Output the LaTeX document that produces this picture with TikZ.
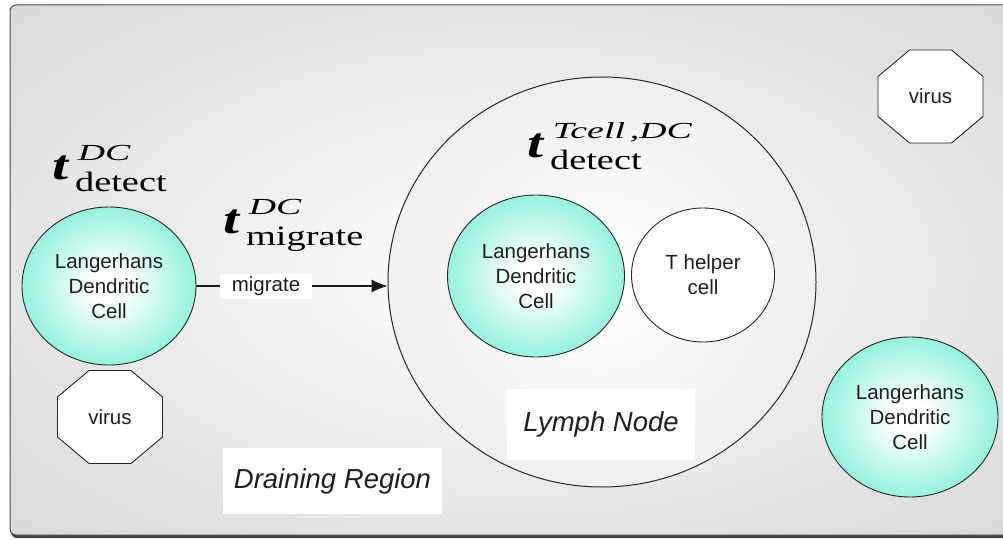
\documentclass[tikz,border=0pt]{standalone}
\usepackage{fontspec}
\usepackage{graphicx}
\newfontfamily\arialf{Liberation Sans}
\newfontfamily\tmsf{Liberation Serif}
\usetikzlibrary{arrows.meta,shapes.geometric}
\definecolor{dccol}{RGB}{122,240,212}
\pgfdeclareradialshading{dcshade}{\pgfpoint{0bp}{0bp}}{color(0bp)=(white); color(5bp)=(white); color(30bp)=(dccol); color(50bp)=(dccol)}
\pgfdeclareradialshading{bgshade}{\pgfpoint{0bp}{0bp}}{color(0bp)=(white); color(50bp)=(black!21)}
\pgfdeclareradialshading{lnshade}{\pgfpoint{0bp}{0bp}}{color(0bp)=(white); color(25bp)=(black!6); color(50bp)=(black!17)}
\pgfdeclareradialshading{whshade}{\pgfpoint{0bp}{0bp}}{color(0bp)=(white); color(30bp)=(white); color(50bp)=(black!7)}
\newcommand\cellfont{\arialf\fontsize{20.5}{25}\selectfont}
\newcommand\tlab[2]{\scalebox{1.37}[1]{\tmsf\fontsize{42}{42}\selectfont\textbf{\textit{t}}\kern4pt\rlap{\kern2pt\raisebox{19pt}{\fontsize{23}{23}\selectfont\scalebox{1.2}[1]{\textit{#1}}}}\raisebox{-12pt}{\fontsize{28}{28}\selectfont #2}}}
\begin{document}
\begin{tikzpicture}[x=1pt,y=-1pt,
  cell/.style={ellipse, draw=black!85, line width=0.9pt, shading=dcshade, inner sep=0pt, align=center, font=\cellfont, text=black!88},
  lnode/.style={ellipse, draw=black!85, line width=1pt, shading=lnshade, inner sep=0pt},
  thelp/.style={ellipse, draw=black!85, line width=0.9pt, shading=whshade, inner sep=0pt, align=center, font=\cellfont, text=black!88},
  vtxt/.style={inner sep=0pt, font=\cellfont, text=black!88},
  octa/.style={draw=black!85, line width=0.9pt, shading=whshade},
  boxlab/.style={fill=white, inner sep=0pt, font=\arialf\itshape\fontsize{27.5}{30}\selectfont, text=black!88},
  miglab/.style={fill=white, inner sep=0pt, minimum width=92pt, minimum height=25pt, font=\cellfont, text=black!88},
  conn/.style={draw=black!90, line width=1.3pt},
  tl/.style={anchor=base west, inner sep=0pt, text=black}]
\useasboundingbox (0,0) rectangle (1003,540);
\clip (0,0) rectangle (1003,540);
% frame
\fill[black!75, rounded corners=6pt] (11,8) rectangle (1015,538);
\path[shading=bgshade, draw=black!70, line width=1pt, rounded corners=6pt] (10,5) rectangle (1012,535);
% lymph node
\node[lnode, minimum width=428pt, minimum height=410pt] (ln) at (602,282) {};
\node[cell, minimum width=177pt, minimum height=162pt] (dc2) at (536,276) {Langerhans\\Dendritic\\Cell};
\node[thelp, minimum width=143pt, minimum height=134pt] (th) at (703,275) {T helper\\cell};
\node[boxlab, minimum width=188pt, minimum height=71pt] (lnlab) at (601,424.5) {Lymph Node};
% left cell
\node[cell, minimum width=174pt, minimum height=158pt] (dc1) at (109,286) {Langerhans\\Dendritic\\Cell};
% right cell
\node[cell, minimum width=176pt, minimum height=160pt] (dc3) at (910,417) {Langerhans\\Dendritic\\Cell};
% viruses
\coordinate (v1c) at (110,417);
\path[octa] (v1c) ++(-21,-46.5) -- ++(42,0) -- ++(31.5,26.5) -- ++(0,40) -- ++(-31.5,26.5) -- ++(-42,0) -- ++(-31.5,-26.5) -- ++(0,-40) -- cycle;
\node[vtxt] (v1) at (v1c) {virus};
\coordinate (v2c) at (930.5,96.5);
\path[octa] (v2c) ++(-21,-46.5) -- ++(42,0) -- ++(31.5,26.5) -- ++(0,40) -- ++(-31.5,26.5) -- ++(-42,0) -- ++(-31.5,-26.5) -- ++(0,-40) -- cycle;
\node[vtxt] (v2) at (v2c) {virus};
% draining region
\node[boxlab, minimum width=219pt, minimum height=66pt] (dr) at (332.5,481) {Draining Region};
% migrate arrow
\node[miglab] (mig) at (266,286) {migrate};
\draw[conn] (dc1.east) -- (mig.west);
\draw[conn, -{Latex[length=16pt,width=13pt]}] (mig.east) -- (mig.east -| ln.west);
% time labels
\node[tl] (tdet1) at (52,180) {\tlab{DC}{detect}};
\node[tl] (tmig) at (223,233) {\tlab{DC}{migrate}};
\node[tl] (tdet2) at (527,158) {\tlab{Tcell\kern3pt,DC}{detect}};
\end{tikzpicture}
\end{document}
